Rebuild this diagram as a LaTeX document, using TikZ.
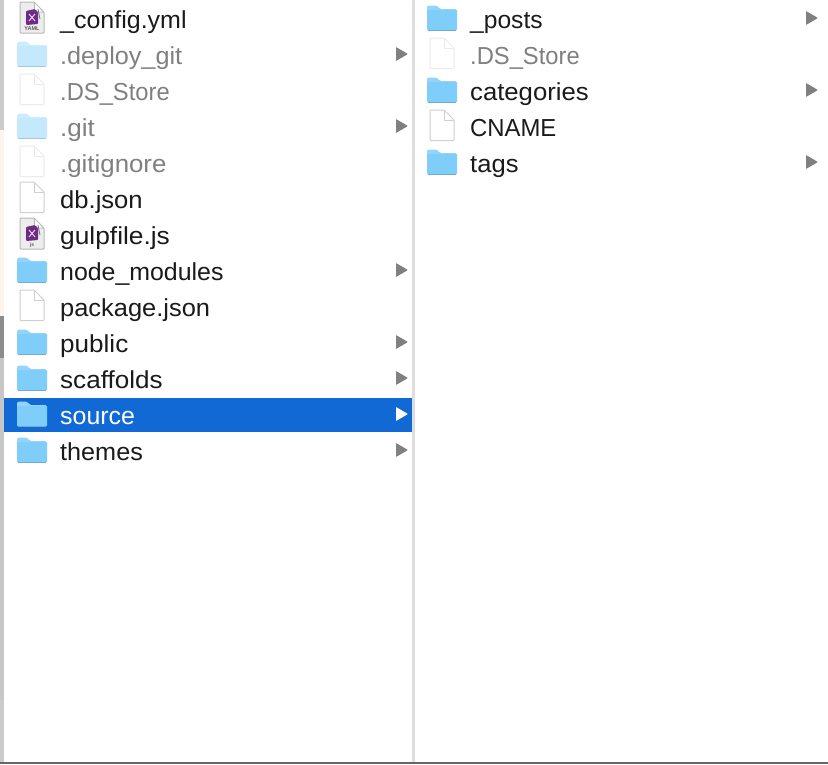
\documentclass[tikz,border=0pt]{standalone}
\usepackage{graphicx}
\usepackage{fontspec}
\setmainfont{Liberation Sans}
\definecolor{folderfill}{HTML}{7FCDF9}
\definecolor{foldertop}{HTML}{93D5FA}
\definecolor{lightfill}{HTML}{C4E9FC}
\definecolor{lighttop}{HTML}{CDECFD}
\definecolor{selblue}{HTML}{1169D6}
\definecolor{dimtext}{HTML}{808080}
\definecolor{maintext}{HTML}{1A1A1A}
\definecolor{arrowgray}{HTML}{808080}
\definecolor{purpleicon}{HTML}{6E2A86}
\definecolor{docedge}{HTML}{CFCFCF}
\definecolor{dimedge}{HTML}{EBEBEB}
\tikzset{
  rowlabel/.style={anchor=base west,inner sep=0pt,font=\fontsize{24.6}{28}\selectfont,text=maintext},
  dimlabel/.style={rowlabel,text=dimtext},
  sellabel/.style={rowlabel,text=white}
}
\newcommand{\txw}[2]{\scalebox{#1}[1]{#2}}
% folder icon: x-left, row centre, body colour, tab colour
\newcommand{\folderic}[4]{%
  \begin{scope}[shift={(#1,#2)}]
    \fill[#4,rounded corners=1.5pt] (0,-8) -- (0,-14.5) -- (10,-14.5) -- (13,-11) -- (30,-11) -- (30,-6) -- (0,-6) -- cycle;
    \fill[#3,rounded corners=1.2pt] (0,-10) -- (30,-10) -- (30,10.5) -- (0,10.5) -- cycle;
    \fill[#3!85!black] (1,10) rectangle (29,10.5);
  \end{scope}}
% plain document icon: x-left, row centre, edge colour
\newcommand{\docic}[3]{%
  \begin{scope}[shift={(#1,#2)}]
    \draw[fill=white,draw=#3,line width=1pt,rounded corners=0.8pt] (0,-18) -- (14,-18) -- (24,-8) -- (24,12.5) -- (0,12.5) -- cycle;
    \draw[draw=#3,line width=0.6pt] (14.5,-17.5) -- (14.5,-8) -- (23.5,-8);
  \end{scope}}
% document icon with emblem: x-left, row centre, size of caption, caption
\newcommand{\appic}[4]{%
  \begin{scope}[shift={(#1,#2)}]
    \draw[fill=black!7,draw=black!28,line width=1pt,rounded corners=0.8pt] (0,-18) -- (14,-18) -- (24,-8) -- (24,13) -- (0,13) -- cycle;
    \draw[fill=white,draw=black!28,line width=0.6pt] (14.5,-17.5) -- (14.5,-8) -- (23.5,-8) -- cycle;
    \fill[purpleicon,rounded corners=1pt] (6,-9) -- (15,-11) -- (18,-8) -- (18,4) -- (6,5) -- cycle;
    \draw[white!80!purpleicon,line width=1pt] (9,-6) -- (15,1) (15,-6) -- (9,1);
    \draw[black!55,line width=0.8pt] (18,-11) -- (20,-1);
    \node[inner sep=0pt,font=\bfseries\fontsize{#3}{6}\selectfont,text=black!65] at (12,9) {#4};
  \end{scope}}
\newcommand{\sidearrow}[3]{\fill[#3,rounded corners=0.6pt] (#1,#2-7) -- (#1+12,#2) -- (#1,#2+7) -- cycle;}
\begin{document}
\begin{tikzpicture}[x=1pt,y=-1pt]
\useasboundingbox (0,0) rectangle (828,764);
\fill[white] (0,0) rectangle (828,764);
% left window edge
\fill[black!20] (0,0) rectangle (3.5,764);
\fill[black!8!orange!8] (0,130) rectangle (3.5,316);
\fill[black!45] (0,316) rectangle (3.5,358);
\fill[black!22] (0,358) rectangle (3.5,700);
% selection and dividers
\fill[selblue] (4,398) rectangle (412,432);
\fill[black!13] (412,0) rectangle (414.5,762);
\fill[black!60] (0,762) rectangle (828,764);
% left column
\appic{20}{20}{5.5}{YAML}
\node[rowlabel] (cfg) at (60,28.5) {\txw{1.016}{\_config.yml}};
\folderic{17}{56}{lightfill}{lighttop}
\node[dimlabel] (dep) at (60,64.5) {\txw{1.025}{.deploy\_git}};
\sidearrow{396}{54}{arrowgray}
\docic{20}{92}{dimedge}
\node[dimlabel] (dsa) at (60,100.5) {\txw{.965}{.DS\_Store}};
\folderic{17}{128}{lightfill}{lighttop}
\node[dimlabel] (git) at (60,136.5) {\txw{1.06}{.git}};
\sidearrow{396}{126}{arrowgray}
\docic{20}{164}{dimedge}
\node[dimlabel] (ign) at (60,172.5) {\txw{1.05}{.gitignore}};
\docic{20}{200}{docedge}
\node[rowlabel] (db) at (60,208.5) {\txw{1.04}{db.json}};
\appic{20}{236}{5}{js}
\node[rowlabel] (gulp) at (60,244.5) {\txw{1.07}{gulpfile.js}};
\folderic{17}{272}{folderfill}{foldertop}
\node[rowlabel] (nm) at (60,280.5) {\txw{1.012}{node\_modules}};
\sidearrow{396}{270}{arrowgray}
\docic{20}{308}{docedge}
\node[rowlabel] (pkg) at (60,316.5) {\txw{1.034}{package.json}};
\folderic{17}{344}{folderfill}{foldertop}
\node[rowlabel] (pub) at (60,352.5) {\txw{1.06}{public}};
\sidearrow{396}{342}{arrowgray}
\folderic{17}{380}{folderfill}{foldertop}
\node[rowlabel] (sca) at (60,388.5) {\txw{1.06}{scaffolds}};
\sidearrow{396}{378}{arrowgray}
\folderic{17}{416}{folderfill}{foldertop}
\node[sellabel] (src) at (60,424.5) {\txw{1.014}{source}};
\sidearrow{396}{414}{white}
\folderic{17}{452}{folderfill}{foldertop}
\node[rowlabel] (thm) at (60,460.5) {\txw{1.025}{themes}};
\sidearrow{396}{450}{arrowgray}
% right column
\folderic{427}{20}{folderfill}{foldertop}
\node[rowlabel] (pos) at (470,28.5) {\_posts};
\sidearrow{806}{18}{arrowgray}
\docic{430}{56}{dimedge}
\node[dimlabel] (dsb) at (470,64.5) {\txw{.965}{.DS\_Store}};
\folderic{427}{92}{folderfill}{foldertop}
\node[rowlabel] (cat) at (470,100.5) {\txw{1.044}{categories}};
\sidearrow{806}{90}{arrowgray}
\docic{430}{128}{docedge}
\node[rowlabel] (cn) at (470,136.5) {\txw{.97}{CNAME}};
\folderic{427}{164}{folderfill}{foldertop}
\node[rowlabel] (tag) at (470,172.5) {\txw{1.04}{tags}};
\sidearrow{806}{162}{arrowgray}
\end{tikzpicture}
\end{document}
